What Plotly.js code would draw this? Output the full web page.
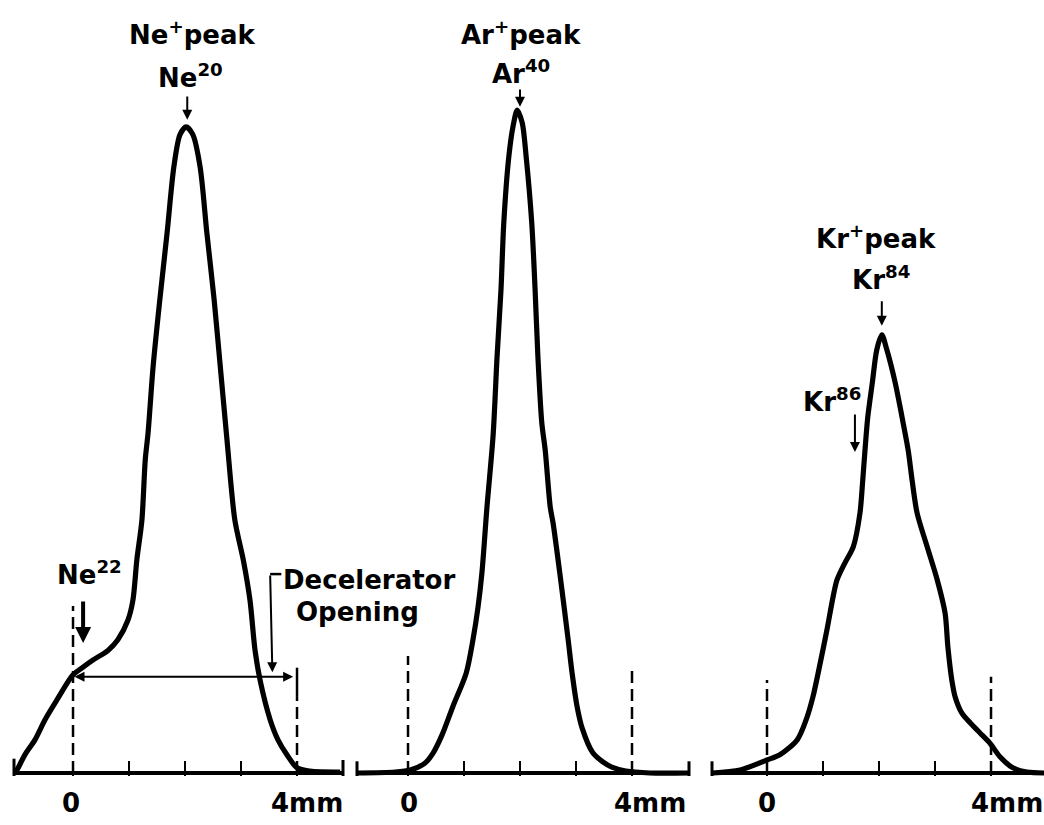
<!DOCTYPE html>
<html><head><meta charset="utf-8">
<script src="https://cdn.plot.ly/plotly-3.0.1.min.js"></script>
<style>html,body{margin:0;padding:0;background:#fff;}#chart{width:1044px;height:825px;}</style>
</head><body><div id="chart"></div>
<script>
// ---- data (x in mm, y = relative ion current) ----
const tickValues = [0, 1, 2, 3, 4];
const tickLabels = ['0', '4mm'];

const neX = [-1.05,-1.0,-0.86,-0.68,-0.5,-0.29,0,0.18,0.36,0.63,0.8,0.98,1.07,1.14,1.23,1.29,1.34,1.43,1.55,1.68,1.8,1.91,2.02,2.14,2.27,2.39,2.52,2.63,2.75,2.89,3.04,3.16,3.25,3.34,3.52,3.66,3.82,4.0,4.23,4.77];
const neY = [0,0.5,2.8,5.1,8.2,11.2,15.1,16.3,17.4,18.9,20.5,23.5,26.6,32.8,38.9,48.2,52.3,62.5,72.8,83.1,93.2,98.2,99.4,98.2,93.2,83.1,72.8,62.5,51.2,38.9,32.8,26.6,18.9,14.3,8.2,5.1,2.8,0.8,0.3,0.15];

const arX = [-0.91,-0.23,0.04,0.30,0.45,0.61,0.80,1.04,1.16,1.25,1.32,1.41,1.52,1.59,1.66,1.71,1.80,1.88,1.95,2.04,2.11,2.21,2.27,2.32,2.39,2.45,2.54,2.59,2.71,2.86,2.93,3.02,3.11,3.30,3.48,3.64,3.89,4.32,5.02];
const arY = [0,0.15,0.46,1.5,3.1,5.9,10.2,15.4,20.5,25.5,30.8,40.9,52.0,64.0,74.3,84.6,94.8,99.7,102.0,100.0,94.8,84.6,74.3,64.0,53.8,49.7,40.9,38.5,30.8,20.5,15.4,10.2,6.9,3.1,1.7,0.9,0.3,0,0];

const krX = [-0.98,-0.48,0,0.23,0.54,0.70,0.82,0.95,1.07,1.18,1.25,1.39,1.54,1.66,1.71,1.75,1.80,1.88,1.96,2.05,2.14,2.29,2.41,2.52,2.59,2.68,2.86,3.04,3.18,3.23,3.30,3.36,3.48,3.63,3.80,3.98,4.16,4.39,4.64,4.95];
const krY = [0,0.46,2.0,2.8,5.1,8.2,11.7,16.9,22.0,27.1,29.7,32.3,34.8,40.0,45.1,49.7,54.8,60.0,65.1,67.4,65.1,60.0,54.8,49.7,45.1,40.0,34.8,29.7,24.6,19.4,14.3,11.7,9.2,7.7,6.2,4.6,2.5,0.8,0.15,0];

// ---- chart ----
const INK = '#000';
const FONT = {family: 'DejaVu Sans', size: 26, color: INK, weight: 'bold'};

function curve(x, y, xa) {
  return {x: x, y: y, xaxis: xa, yaxis: 'y', type: 'scatter', mode: 'lines',
          line: {color: INK, width: 5.2, shape: 'spline', smoothing: 0.8},
          hoverinfo: 'skip', showlegend: false};
}
const data = [curve(neX, neY, 'x'), curve(arX, arY, 'x2'), curve(krX, krY, 'x3')];

function xaxis(domain, range) {
  return {domain: domain, range: range, anchor: 'y', showgrid: false, zeroline: false,
          showline: false, ticks: 'inside', tickvals: tickValues, ticklen: 15, tickwidth: 2.5,
          tickcolor: INK, showticklabels: false, fixedrange: true};
}

const shapes = [];
function seg(xr, x0, y0, x1, y1, w, dash) {
  shapes.push({type: 'line', xref: xr, yref: 'y', x0: x0, y0: y0, x1: x1, y1: y1,
               line: {color: INK, width: w, dash: dash || 'solid'}});
}
// baselines
['x', 'x2', 'x3'].forEach(function (a) {
  shapes.push({type: 'line', xref: a + ' domain', yref: 'y', x0: 0, x1: 1, y0: 0, y1: 0,
               line: {color: INK, width: 4}});
});
// end caps
shapes.push({type: 'line', xref: 'x domain', yref: 'y', x0: 0, x1: 0, y0: -0.46, y1: 2.2, line: {color: INK, width: 3}});
shapes.push({type: 'line', xref: 'x domain', yref: 'y', x0: 1, x1: 1, y0: -0.46, y1: 2.0, line: {color: INK, width: 3}});
shapes.push({type: 'line', xref: 'x2 domain', yref: 'y', x0: 0, x1: 0, y0: -0.46, y1: 1.8, line: {color: INK, width: 3}});
shapes.push({type: 'line', xref: 'x2 domain', yref: 'y', x0: 1, x1: 1, y0: -0.46, y1: 1.8, line: {color: INK, width: 3}});
shapes.push({type: 'line', xref: 'x3 domain', yref: 'y', x0: 0, x1: 0, y0: -0.46, y1: 1.8, line: {color: INK, width: 3}});
// dashed guide lines at 0 and 4 mm
const DASH = '12px,6px';
seg('x', 0, 0, 0, 25.7, 2.5, DASH);
seg('x', 4, 0, 4, 11.7, 2.5, DASH);
seg('x', 4, 11.7, 4, 16.2, 2.5);
seg('x2', 0, 0, 0, 18.0, 2.5, DASH);
seg('x2', 4, 0, 4, 15.8, 2.5, DASH);
seg('x3', 0, 0, 0, 14.3, 2.5, DASH);
seg('x3', 4, 0, 4, 14.8, 2.5, DASH);
// decelerator bracket top stub
seg('x', 3.52, 30.6, 3.72, 30.6, 2.5);

const annotations = [];
function txt(xr, x, yr, y, t, opts) {
  annotations.push(Object.assign({xref: xr, yref: yr, x: x, y: y, text: t, showarrow: false,
    font: FONT, xanchor: 'center', yanchor: 'middle'}, opts || {}));
}
function arrow(xr, x, y, ax, ay, w, head, size, side) {
  annotations.push({xref: xr, yref: 'y', axref: xr, ayref: 'y', x: x, y: y, ax: ax, ay: ay,
    text: '', showarrow: true, arrowhead: head, arrowsize: size, arrowwidth: w,
    arrowcolor: INK, arrowside: side || 'end', standoff: 0, startstandoff: 0});
}

// peak labels
txt('x', 2.125, 'y', 113.8, 'Ne<sup>+</sup>peak');
txt('x', 2.09, 'y', 107.2, 'Ne<sup>20</sup>');
txt('x2', 2.02, 'y', 113.8, 'Ar<sup>+</sup>peak');
txt('x2', 2.02, 'y', 107.8, 'Ar<sup>40</sup>');
txt('x3', 1.95, 'y', 82.5, 'Kr<sup>+</sup>peak');
txt('x3', 2.04, 'y', 76.2, 'Kr<sup>84</sup>');
txt('x3', 1.16, 'y', 57.4, 'Kr<sup>86</sup>');
txt('x', 0.3, 'y', 30.8, 'Ne<sup>22</sup>');
txt('paper', 369 / 1044, 'y', 29.7, 'Decelerator');
txt('paper', 357 / 1044, 'y', 24.8, 'Opening');

// arrows
arrow('x', 2.04, 100.5, 2.04, 104.3, 2, 2, 1);
arrow('x2', 2.0, 102.5, 2.0, 105.4, 2, 2, 1);
arrow('x3', 2.05, 68.8, 2.05, 72.8, 2, 2, 1);
arrow('x3', 1.57, 49.4, 1.57, 55.4, 2, 2, 1);
arrow('x', 0.18, 20.0, 0.18, 26.6, 4, 2, 0.8);
arrow('x', 3.56, 15.5, 3.52, 30.6, 2, 2, 1);
arrow('x', 3.93, 14.8, 0.0, 14.8, 2, 2, 1, 'end+start');

// axis labels under each panel
const labelX0 = {x: -0.045, x2: 0.02, x3: 0};
const labelX4 = {x: 4.18, x2: 4.32, x3: 4.29};
['x', 'x2', 'x3'].forEach(function (a) {
  txt(a, labelX0[a], 'paper', -0.035, tickLabels[0]);
  txt(a, labelX4[a], 'paper', -0.035, tickLabels[1]);
});

const layout = {
  width: 1044, height: 825,
  margin: {l: 0, r: 0, t: 0, b: 49, pad: 0},
  paper_bgcolor: '#fff', plot_bgcolor: '#fff',
  showlegend: false,
  xaxis: xaxis([14 / 1044, 343 / 1044], [-1.054, 4.821]),
  xaxis2: xaxis([357 / 1044, 689 / 1044], [-0.911, 5.018]),
  xaxis3: xaxis([712 / 1044, 1], [-0.982, 4.946]),
  yaxis: {domain: [0, 1], range: [-0.4615, 118.92], visible: false, fixedrange: true},
  shapes: shapes,
  annotations: annotations
};

Plotly.newPlot('chart', data, layout, {staticPlot: true, displayModeBar: false});
</script>
</body></html>
